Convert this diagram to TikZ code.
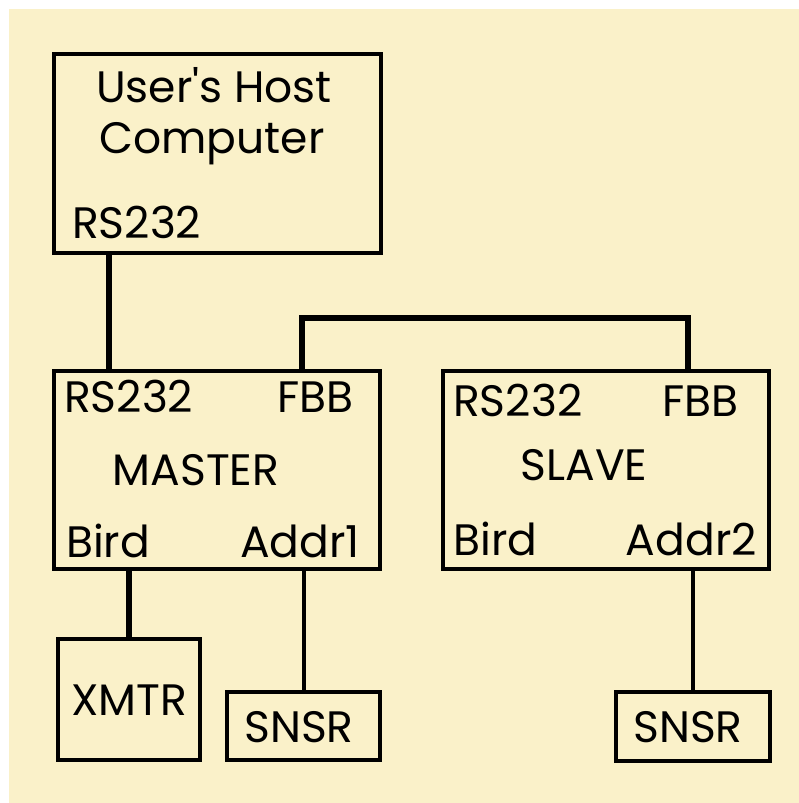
\documentclass[tikz,border=0pt]{standalone}
\usepackage{fontspec}
\setmainfont{Poppins}
\definecolor{parchment}{RGB}{250,241,201}
\begin{document}
\begin{tikzpicture}[x=1pt,y=-1pt,
  unit/.style={draw,line width=4pt,inner sep=0pt},
  lbl/.style={font=\fontsize{44}{52}\selectfont,inner sep=0pt},
  thickline/.style={line width=6pt},
  thinline/.style={line width=4pt}]
\useasboundingbox (0,0) rectangle (799,803);
\fill[white] (0,0) rectangle (810,810);
\fill[parchment] (9,9) rectangle (810,810);

\node[unit,minimum width=327pt,minimum height=199pt] (host) at (217.5,153.5) {};
\node[unit,minimum width=326pt,minimum height=198pt] (master) at (217,470) {};
\node[unit,minimum width=326pt,minimum height=198pt] (slave) at (606,470) {};
\node[unit,minimum width=142pt,minimum height=121pt] (xmtr) at (129,699.5) {};
\node[unit,minimum width=153pt,minimum height=68pt] (snsrA) at (303.5,726) {};
\node[unit,minimum width=154pt,minimum height=69pt] (snsrB) at (693,726.5) {};

\node[lbl,anchor=base] (hostname) at (214,102) {User\textquotesingle s Host};
\node[lbl,anchor=base] (hostname2) at (212,153) {Computer};
\node[lbl,anchor=base west] (hostrs) at (72,238) {RS232};

\node[lbl,anchor=base west] (masterrs) at (64,412) {RS232};
\node[lbl,anchor=base east] (masterfbb) at (354,412) {FBB};
\node[lbl,anchor=base] (mastername) at (196,485) {MASTER};
\node[lbl,anchor=base west] (masterbird) at (66,557) {Bird};
\node[lbl,anchor=base east] (masteraddr) at (360,557) {Addr1};

\node[lbl,anchor=base west] (slavers) at (453,416) {RS232};
\node[lbl,anchor=base east] (slavefbb) at (739,416) {FBB};
\node[lbl,anchor=base] (slavename) at (584,480) {SLAVE};
\node[lbl,anchor=base west] (slavebird) at (453,555) {Bird};
\node[lbl,anchor=base east] (slaveaddr) at (757,555) {Addr2};

\node[lbl,anchor=base] (xmtrname) at (129,715) {XMTR};
\node[lbl,anchor=base] (snsrAname) at (299,742) {SNSR};
\node[lbl,anchor=base] (snsrBname) at (688,742) {SNSR};

\coordinate (hostlink) at (109,0);
\coordinate (fbbA) at (302,318);
\coordinate (fbbB) at (688,318);

\draw[thickline] (host.south -| hostlink) -- (master.north -| hostlink);
\draw[thickline] (master.north -| fbbA) -- (fbbA) -- (fbbB) -- (slave.north -| fbbB);
\draw[thickline] (xmtr.north |- master.south) -- (xmtr.north);
\draw[thinline] (snsrA.north |- master.south) -- (snsrA.north);
\draw[thinline] (snsrB.north |- slave.south) -- (snsrB.north);
\end{tikzpicture}
\end{document}
